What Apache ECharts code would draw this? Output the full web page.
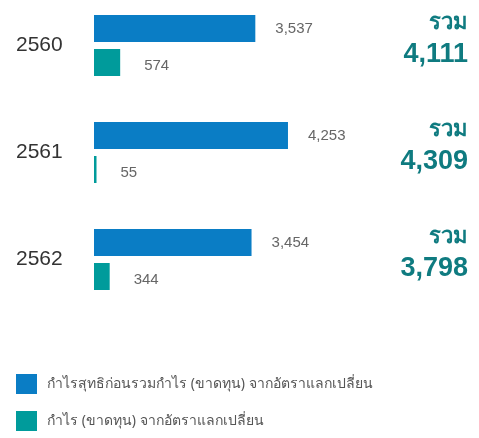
<!DOCTYPE html>
<html>
<head>
<meta charset="utf-8">
<script src="https://cdn.jsdelivr.net/npm/echarts@6/dist/echarts.min.js"></script>
<style>html,body{margin:0;padding:0;background:#fff}#c{width:479px;height:438px}</style>
</head>
<body>
<div id="c"></div>
<script>
var categories = ['2560', '2561', '2562'];
var netProfitBeforeFx = [3537, 4253, 3454];
var fxGainLoss = [574, 55, 344];
var totals = [4111, 4309, 3798];
var seriesNames = ['กำไรสุทธิก่อนรวมกำไร (ขาดทุน) จากอัตราแลกเปลี่ยน', 'กำไร (ขาดทุน) จากอัตราแลกเปลี่ยน'];
var totalWord = 'รวม';

function fmt(v) { return Number(v).toLocaleString('en-US'); }
var FONT = '"Noto Sans", "Liberation Sans", sans-serif';
var NUMFONT = '"Liberation Sans", "Noto Sans", sans-serif';

var chart = echarts.init(document.getElementById('c'), null, { renderer: 'canvas' });
chart.setOption({
  animation: false,
  textStyle: { fontFamily: FONT },
  grid: { left: 94, right: 11, top: -8, height: 321, containLabel: false, outerBoundsMode: 'none' },
  xAxis: { type: 'value', min: 0, max: 8200, show: false },
  yAxis: [
    {
      type: 'category', data: categories, inverse: true,
      axisLine: { show: false }, axisTick: { show: false }, splitLine: { show: false },
      axisLabel: { align: 'left', margin: 78, fontSize: 21, color: '#333', fontFamily: NUMFONT }
    },
    {
      type: 'category', data: totals, inverse: true, position: 'right',
      axisLine: { show: false }, axisTick: { show: false }, splitLine: { show: false },
      axisLabel: {
        inside: true, margin: 0, align: 'right', padding: [0, 0, 14, 0],
        formatter: function (v) { return '{a|' + totalWord + '}\n{b|' + fmt(v) + '}'; },
        rich: {
          a: { fontSize: 22, fontWeight: 'bold', color: '#0f7b80', lineHeight: 32, align: 'right', fontFamily: FONT },
          b: { fontSize: 27, fontWeight: 'bold', color: '#0f7b80', lineHeight: 32, align: 'right', fontFamily: NUMFONT }
        }
      }
    }
  ],
  legend: {
    orient: 'vertical', left: 16, top: 374, itemWidth: 21, itemHeight: 20, itemGap: 17,
    icon: 'rect', padding: 0,
    textStyle: { fontSize: 14, color: '#555', padding: [0, 0, 0, 5], fontFamily: FONT },
    data: seriesNames
  },
  series: [
    {
      name: seriesNames[0], type: 'bar', data: netProfitBeforeFx, barWidth: 27, barGap: '26%',
      itemStyle: { color: '#0a7dc5' },
      label: { show: true, position: 'right', distance: 20, color: '#666', fontSize: 15, fontFamily: NUMFONT, formatter: function (p) { return fmt(p.value); } }
    },
    {
      name: seriesNames[1], type: 'bar', data: fxGainLoss, barWidth: 27,
      itemStyle: { color: '#009b9b' },
      label: { show: true, position: 'right', distance: 24, offset: [0, 3], color: '#666', fontSize: 15, fontFamily: NUMFONT, formatter: function (p) { return fmt(p.value); } }
    }
  ]
});
</script>
</body>
</html>
